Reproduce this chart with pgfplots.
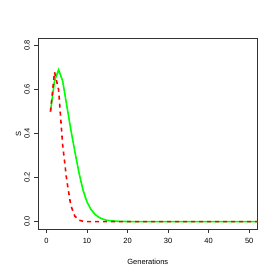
\documentclass[border=0pt]{standalone}
\usepackage{fontspec}
\setmainfont{Liberation Sans}
\usepackage{pgfplots}
\pgfplotsset{compat=1.18}
\definecolor{rgreen}{RGB}{0,255,0}
\definecolor{rred}{RGB}{255,0,0}
\begin{document}
\begin{tikzpicture}
\useasboundingbox (0,0) rectangle (277bp,277bp);
\begin{axis}[
  at={(38.3bp,48bp)}, anchor=south west,
  scale only axis, width=219bp, height=190.7bp,
  xmin=-2, xmax=52, ymin=-0.0333, ymax=0.8333,
  clip=true,
  xtick={0,10,20,30,40,50}, ytick={0,0.2,0.4,0.6,0.8},
  yticklabel style={rotate=90, anchor=south, font=\fontsize{7.5bp}{8bp}\selectfont, /pgf/number format/fixed, /pgf/number format/fixed zerofill, /pgf/number format/precision=1},
  xticklabel style={font=\fontsize{7.5bp}{8bp}\selectfont},
  /pgf/number format/assume math mode=true,
  tick align=outside, tick pos=left,
  major tick length=4bp,
  tick style={black!80, line width=0.6bp},
  axis line style={black!80, line width=0.8bp},
  xlabel={Generations}, ylabel={S},
  label style={font=\fontsize{7.5bp}{8bp}\selectfont},
  xlabel style={at={(axis description cs:0.5,-0.173)}, anchor=center},
  ylabel style={at={(axis description cs:-0.09,0.5)}, anchor=center},
  xticklabel shift=2bp, yticklabel shift=1bp,
]
\addplot[rgreen, line width=1.6bp] coordinates {
(1,0.50) (2,0.64) (3,0.69) (4,0.64) (5,0.53) (6,0.42) (7,0.32) (8,0.225) (9,0.145) (10,0.09) (11,0.055) (12,0.033) (13,0.019) (14,0.011) (15,0.006) (16,0.004) (17,0.0025) (18,0.0015) (20,0.0007) (22,0.0003) (25,0) (30,0) (35,0) (40,0) (45,0) (50,0) (55,0) (60,0)
};
\addplot[rred, line width=1.6bp, dash pattern=on 4bp off 4bp] coordinates {
(1,0.50) (2,0.68) (3,0.60) (4,0.35) (5,0.19) (6,0.075) (7,0.025) (8,0.007) (9,0.002) (10,0.0005) (11,0) (15,0) (20,0) (25,0) (30,0) (35,0) (40,0) (45,0) (50,0) (55,0) (60,0)
};
\end{axis}
\end{tikzpicture}
\end{document}
